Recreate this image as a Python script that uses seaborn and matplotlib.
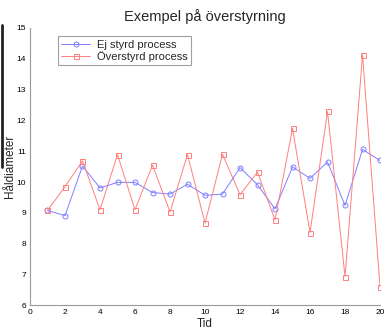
import numpy as np
import pandas as pd
import seaborn as sns
import matplotlib.pyplot as plt
from matplotlib.lines import Line2D

# värden
tid = list(range(1, 21))
ej_styrd = [9.08, 8.91, 10.52, 9.81, 9.99, 9.99, 9.66, 9.61, 9.93, 9.57,
            9.61, 10.47, 9.91, 9.13, 10.49, 10.12, 10.65, 9.24, 11.06, 10.70]
overstyrd = [9.08, 9.85, 10.69, 9.10, 10.89, 9.10, 10.55, 9.03, 10.89, 8.67,
             10.90, 9.59, 10.32, 8.77, 11.74, 8.36, 12.29, 6.93, 14.13, 6.60]
serier = ['Ej styrd process', 'Överstyrd process']
farger = ['#7f7fff', '#ff7f7f']

df = pd.concat([
    pd.DataFrame({'Tid': tid, 'Håldiameter': ej_styrd, 'process': serier[0]}),
    pd.DataFrame({'Tid': tid, 'Håldiameter': overstyrd, 'process': serier[1]}),
])

sns.set_style('white')
plt.rcParams['font.family'] = ['Liberation Sans', 'DejaVu Sans']

fig = plt.figure(figsize=(3.87, 3.32), dpi=100)
ax = fig.add_axes([0.0775, 0.0804, 0.9045, 0.8353])

sns.lineplot(data=df, x='Tid', y='Håldiameter', hue='process', style='process',
             palette=dict(zip(serier, farger)),
             markers={serier[0]: 'o', serier[1]: 's'}, dashes=False,
             markersize=3.6, markerfacecolor='none', markeredgewidth=0.7,
             linewidth=0.7, ax=ax)

for l, c in zip(ax.lines[:2], farger):
    l.set_markeredgecolor(c)

ax.set_xlim(0, 20)
ax.set_ylim(6, 15)
ax.set_xticks(range(0, 21, 2))
ax.set_yticks(range(6, 16))
ax.tick_params(direction='in', length=2.5, width=0.6, colors='#999999',
               labelsize=6, labelcolor='black', pad=3)
for s in ['top', 'right']:
    ax.spines[s].set_visible(False)
for s in ['left', 'bottom']:
    ax.spines[s].set_color('#999999')
    ax.spines[s].set_linewidth(0.8)

ax.set_title('Exempel på överstyrning', fontsize=10.5, pad=5)
ax.set_xlabel('Tid', fontsize=8.5, labelpad=1)
ax.set_ylabel('Håldiameter', fontsize=8.5)
ax.yaxis.set_label_coords(-0.04, 0.5)

handles = [Line2D([], [], color=c, marker=m, markersize=3.6, markerfacecolor='none',
                  linewidth=0.7, markeredgewidth=0.7)
           for c, m in zip(farger, ['o', 's'])]
leg = ax.legend(handles, serier, loc='upper left', bbox_to_anchor=(0.08, 0.97),
                fontsize=8, frameon=True, fancybox=False, handlelength=2.6,
                borderpad=0.3, labelspacing=0.1, handletextpad=0.6, borderaxespad=0)
leg.get_frame().set_edgecolor('#888888')
leg.get_frame().set_linewidth(0.8)

fig.add_artist(Line2D([0.004, 0.004], [1 - 25 / 332, 1 - 167 / 332], color='#222222', lw=2))

fig.savefig('out.png', dpi=100)
